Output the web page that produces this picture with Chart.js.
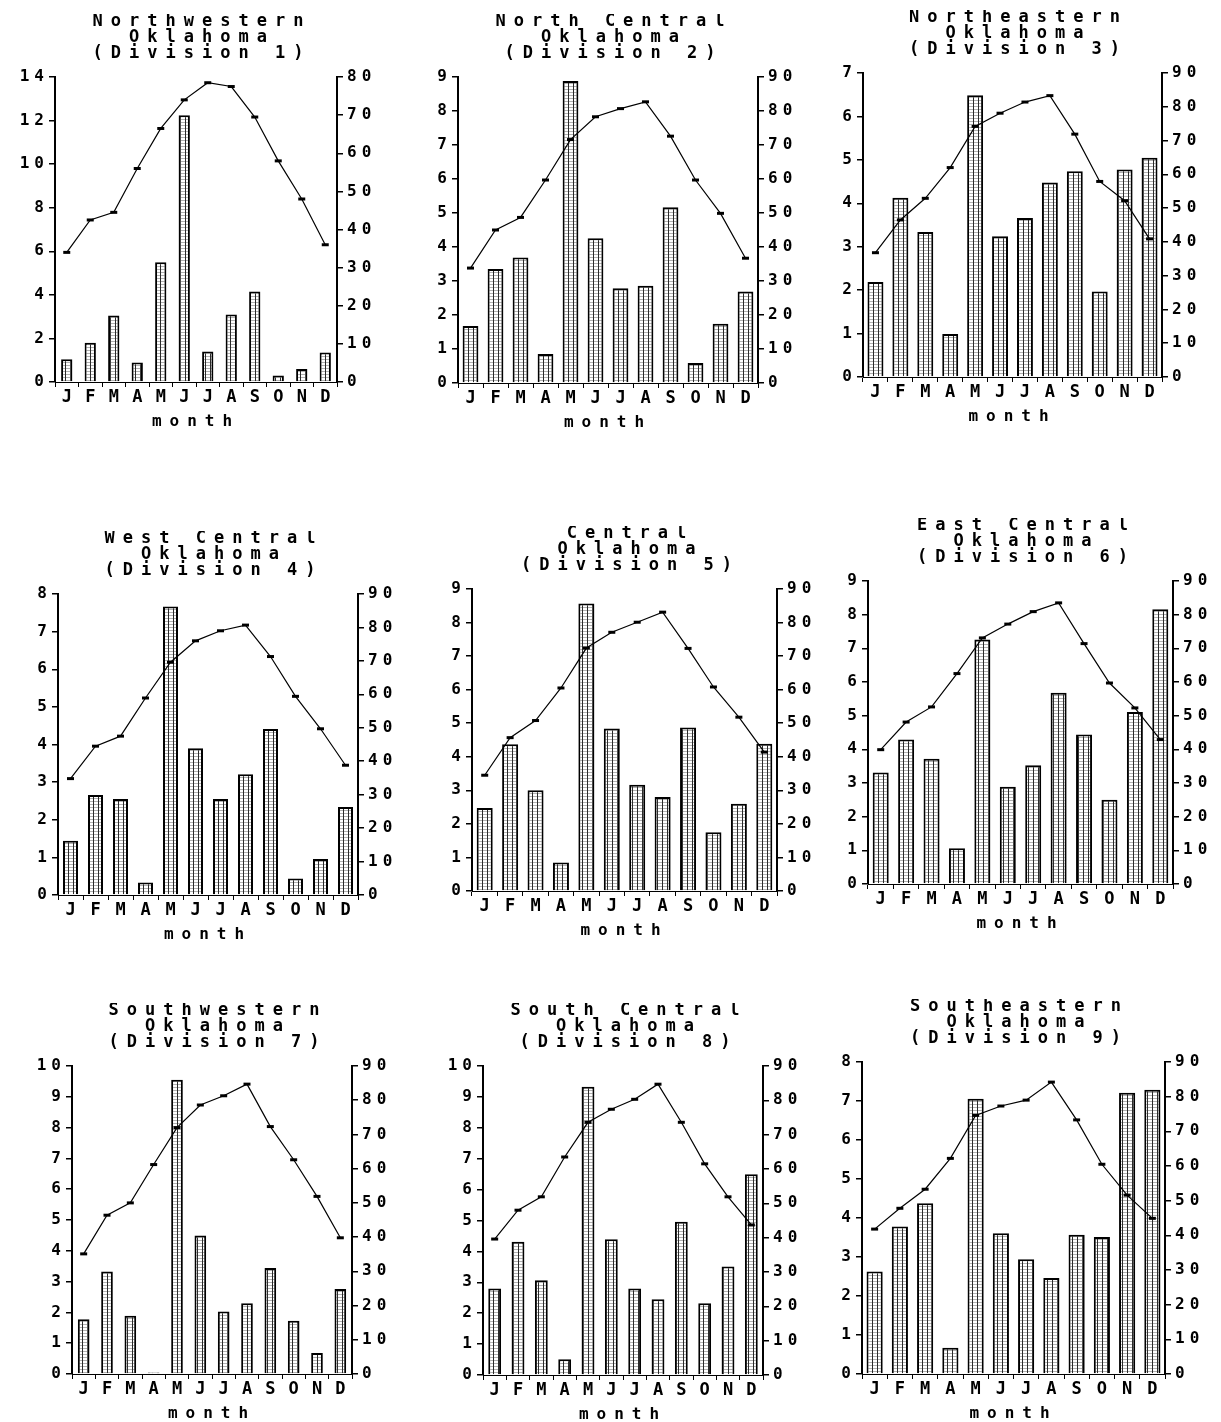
<!DOCTYPE html>
<html>
<head>
<meta charset="utf-8">
<title>Oklahoma climate divisions</title>
<script src="https://cdn.jsdelivr.net/npm/chart.js@4.4.1/dist/chart.umd.min.js"></script>
<style>
  html, body { margin: 0; padding: 0; background: #fff; overflow: hidden; }
  #page { position: relative; width: 1221px; height: 1422px; overflow: hidden; background: #fff; }
  #page canvas { position: absolute; }
</style>
</head>
<body>
<div id="page"></div>
<script>
var months = ["J", "F", "M", "A", "M", "J", "J", "A", "S", "O", "N", "D"];
var regionNames = ["Northwestern", "North Central", "Northeastern",
  "West Central", "Central", "East Central",
  "Southwestern", "South Central", "Southeastern"];

// precipitation (left axis, inches)
var precip1 = [1.05, 1.8, 3.05, 0.9, 5.5, 12.25, 1.4, 3.1, 4.15, 0.3, 0.6, 1.35];
var precip2 = [1.68, 3.35, 3.69, 0.85, 8.88, 4.26, 2.79, 2.86, 5.17, 0.59, 1.74, 2.69];
var precip3 = [2.19, 4.13, 3.34, 0.99, 6.49, 3.24, 3.66, 4.48, 4.74, 1.97, 4.78, 5.05];
var precip4 = [1.44, 2.66, 2.55, 0.33, 7.67, 3.9, 2.55, 3.21, 4.41, 0.44, 0.96, 2.34];
var precip5 = [2.47, 4.37, 3.0, 0.85, 8.57, 4.84, 3.17, 2.8, 4.87, 1.75, 2.6, 4.39];
var precip6 = [3.31, 4.29, 3.72, 1.06, 7.26, 2.89, 3.53, 5.68, 4.44, 2.5, 5.11, 8.16];
var precip7 = [1.78, 3.33, 1.89, 0.05, 9.55, 4.5, 2.03, 2.3, 3.44, 1.73, 0.68, 2.76];
var precip8 = [2.8, 4.31, 3.07, 0.51, 9.33, 4.39, 2.8, 2.45, 4.96, 2.32, 3.51, 6.5];
var precip9 = [2.63, 3.78, 4.38, 0.67, 7.06, 3.61, 2.94, 2.46, 3.57, 3.51, 7.21, 7.29];

// temperature (right axis, deg F)
var temp1 = [34, 42.5, 44.5, 56, 66.5, 74, 78.5, 77.5, 69.5, 58, 48, 36];
var temp2 = [33.8, 45, 48.7, 59.7, 71.6, 78.3, 80.7, 82.7, 72.6, 59.7, 49.9, 36.7];
var temp3 = [36.8, 46.5, 52.9, 62, 74.2, 78.1, 81.4, 83.3, 71.9, 57.9, 52.2, 40.9];
var temp4 = [34.8, 44.5, 47.5, 58.9, 69.6, 76, 79, 80.7, 71.3, 59.4, 49.7, 38.8];
var temp5 = [34.5, 45.7, 50.8, 60.5, 72.4, 77.1, 80.1, 83.1, 72.3, 60.8, 51.8, 41.4];
var temp6 = [39.9, 48.1, 52.6, 62.5, 73.1, 77.2, 80.9, 83.5, 71.4, 59.7, 52.3, 42.9];
var temp7 = [35.1, 46.4, 50, 61.2, 72, 78.6, 81.3, 84.7, 72.3, 62.6, 51.9, 39.8];
var temp8 = [39.6, 48, 51.9, 63.5, 73.6, 77.4, 80.3, 84.7, 73.6, 61.5, 51.9, 43.7];
var temp9 = [41.8, 47.8, 53.3, 62.2, 74.6, 77.3, 79, 84.2, 73.3, 60.5, 51.6, 44.9];

// axis ranges
var precipMax = [14, 9, 7, 8, 9, 9, 10, 10, 8];
var precipStep = [2, 1, 1, 1, 1, 1, 1, 1, 1];
var tempMax = [80, 90, 90, 90, 90, 90, 90, 90, 90];
var tempStep = 10;

var precipAll = [precip1, precip2, precip3, precip4, precip5, precip6, precip7, precip8, precip9];
var tempAll = [temp1, temp2, temp3, temp4, temp5, temp6, temp7, temp8, temp9];

// layout only: plot area of each panel on the page [left, top, right, bottom]
var plotBoxes = [
  [55, 77, 337, 382], [458, 77, 758, 383], [863, 73, 1162, 377],
  [58, 594, 358, 895], [472, 589, 777, 891], [868, 581, 1173, 884],
  [72, 1066, 352, 1374], [483, 1066, 763, 1375], [862, 1062, 1165, 1374]
];
var barWidths = [0.48, 0.63, 0.64, 0.6, 0.63, 0.63, 0.5, 0.55, 0.64];

var leftW = 50, rightW = 62, topH = 63, bottomH = 50;
var mono = "'DejaVu Sans Mono', 'Liberation Mono', monospace";

// wide, typewriter-like spacing for titles and x labels, tighter for y ticks
var spacingPlugin = {
  id: "spacing",
  beforeDraw: function (chart) { chart.ctx.letterSpacing = "8px"; },
  afterDatasetsDraw: function (chart) { chart.ctx.letterSpacing = "5px"; },
  afterDraw: function (chart) { chart.ctx.letterSpacing = "0px"; }
};

function makeStipple(ctx) {
  var tile = document.createElement("canvas");
  tile.width = 5;
  tile.height = 3;
  var t = tile.getContext("2d");
  t.fillStyle = "#fff";
  t.fillRect(0, 0, 5, 3);
  t.fillStyle = "#2a2a2a";
  t.fillRect(0, 0, 1, 3);
  t.fillStyle = "#b0b0b0";
  t.fillRect(1, 0, 4, 1);
  return ctx.createPattern(tile, "repeat");
}

function yAxis(pos, max, step, width, pad) {
  return {
    position: pos,
    min: 0,
    max: max,
    ticks: {
      stepSize: step,
      color: "#000",
      padding: pad,
      z: 1,
      font: { family: mono, size: 16, weight: "bold" }
    },
    grid: { drawOnChartArea: false, drawTicks: true, tickLength: 6, color: "#000", lineWidth: 1.5 },
    border: { display: true, color: "#000", width: 2 },
    afterFit: function (s) { s.width = width; }
  };
}

var page = document.getElementById("page");

for (var i = 0; i < 9; i++) {
  var box = plotBoxes[i];
  var canvas = document.createElement("canvas");
  var w = box[2] - box[0] + leftW + rightW;
  var h = box[3] - box[1] + topH + bottomH;
  canvas.width = w;
  canvas.height = h;
  canvas.style.width = w + "px";
  canvas.style.height = h + "px";
  canvas.style.left = (box[0] - leftW) + "px";
  canvas.style.top = (box[1] - topH) + "px";
  page.appendChild(canvas);

  var ctx = canvas.getContext("2d");

  new Chart(ctx, {
    type: "bar",
    data: {
      labels: months,
      datasets: [
        {
          type: "line",
          label: "Temperature",
          data: tempAll[i],
          yAxisID: "y1",
          borderColor: "#000",
          borderWidth: 1.2,
          tension: 0,
          fill: false,
          pointStyle: "line",
          pointRadius: 3.5,
          pointBorderWidth: 3,
          pointBorderColor: "#000",
          order: 0
        },
        {
          type: "bar",
          label: "Precipitation",
          data: precipAll[i],
          yAxisID: "y",
          backgroundColor: makeStipple(ctx),
          borderColor: "#000",
          borderWidth: 2,
          barPercentage: barWidths[i],
          categoryPercentage: 1,
          order: 1
        }
      ]
    },
    options: {
      responsive: false,
      animation: false,
      devicePixelRatio: 1,
      layout: { padding: 0 },
      plugins: {
        legend: { display: false },
        tooltip: { enabled: false },
        title: {
          display: true,
          text: [regionNames[i], "Oklahoma", "(Division " + (i + 1) + ")"],
          color: "#000",
          font: { family: mono, size: 17, weight: "bold", lineHeight: "16px" },
          padding: { top: 0, bottom: 15 }
        }
      },
      scales: {
        x: {
          offset: true,
          grid: { display: true, drawOnChartArea: false, drawTicks: true, tickLength: 5, color: "#000", lineWidth: 1 },
          border: { display: true, color: "#000", width: 1, dash: [2, 3] },
          ticks: {
            color: "#000",
            padding: 0,
            maxRotation: 0,
            autoSkip: false,
            labelOffset: 4,
            font: { family: mono, size: 17, weight: "bold" }
          },
          title: {
            display: true,
            text: "month",
            color: "#000",
            font: { family: mono, size: 16, weight: "bold" },
            padding: { top: 0, bottom: 1 }
          },
          afterFit: function (s) { s.height = bottomH; }
        },
        y: yAxis("left", precipMax[i], precipStep[i], leftW, 0),
        y1: yAxis("right", tempMax[i], tempStep, rightW, 4)
      }
    },
    plugins: [spacingPlugin]
  });
}
</script>
</body>
</html>
